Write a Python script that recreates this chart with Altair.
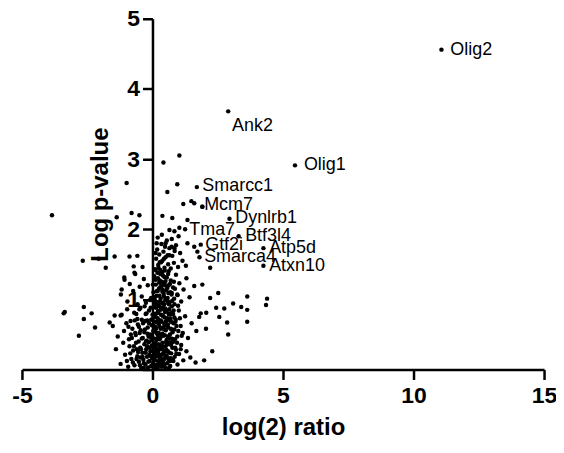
import altair as alt
import pandas as pd

# ---- scatter points (log2 ratio, -log p) ----
# dense cluster near the origin
cl_x = [-1.22, -1.05, -0.93, -0.88, -0.81, -0.74, -0.69, -0.63, -0.58, -0.52, -0.47, -0.43, -0.39, -0.35, -0.31, -0.27,
        -0.24, -0.21, -0.17, -0.14, -0.11, -0.08, -0.05, -0.03, 0.0, 0.02, 0.04, 0.06, 0.08, 0.1, 0.12, 0.14, 0.16, 0.18,
        0.2, 0.22, 0.24, 0.26, 0.28, 0.3, 0.32, 0.34, 0.36, 0.38, 0.4, 0.43, 0.45, 0.48, 0.5, 0.53, 0.56, 0.59, 0.62, 0.65,
        0.68, 0.72, 0.76, 0.8, 0.85, 0.9, 0.96, 1.02, 1.1, 1.18, 1.3, 1.45, 1.65, -1.4, -0.98, -0.6, -0.12, 0.05, 0.15,
        0.27, 0.44, 0.58, 0.7, -0.33, -0.46, 0.11, 0.21, 0.33, 0.52, -0.2, 0.09, 0.37, 0.63, 0.78,
        -1.52, -1.33, -1.18, -1.09, -0.97, -0.9, -0.84, -0.77, -0.7, -0.64, -0.58, -0.52, -0.46, -0.41, -0.36, -0.31,
        -0.26, -0.22, -0.18, -0.13, -0.09, -0.05, -0.01, 0.03, 0.06, 0.09, 0.12, 0.15, 0.18, 0.21, 0.24, 0.27, 0.3, 0.33,
        0.36, 0.39, 0.42, 0.45, 0.48, 0.51, 0.54, 0.57, 0.6, 0.64, 0.67, 0.71, 0.75, 0.79, 0.84, 0.89, 0.95, 1.01, 1.08,
        1.16, 1.25, 1.36, 1.5, 1.68, 1.85, 2.05, 0.0, 0.14, 0.26, 0.38, 0.47, 0.62, 0.73, -0.28, -0.49, -0.15, 0.08, 0.2,
        0.32, 0.55, 0.86, -0.62, -1.0, 0.41, 0.68, 0.17,
        -1.21, -1.08, -0.96, -0.87, -0.74, -0.66, -0.57, -0.49, -0.41, -0.33, -0.25, 0.04, 0.07, 0.1, 0.13, 0.16, 0.19,
        0.22, 0.25, 0.28, 0.31, 0.34, 0.37, 0.4, 0.43, 0.46, 0.49, 0.52, 0.55, 0.58, 0.62, 0.66, 0.7, 0.74, 0.79, 0.84,
        0.9, 0.96, 1.03, 1.1, 1.19, 1.3, 1.42, 1.6, 0.12, 0.2, 0.3, 0.38, 0.5, 0.6, 0.68, 0.05, 0.27, 0.45, 0.82, -0.18,
        -0.05, 0.35, 0.56, 0.15,
        -0.72, -0.58, 0.09, 0.14, 0.18, 0.22, 0.26, 0.3, 0.34, 0.38, 0.42, 0.46, 0.5, 0.55, 0.6, 0.65, 0.7, 0.76, 0.82,
        0.9, 0.98, 1.06, 1.15, 1.28, 0.2, 0.36, 0.48, 0.28, 0.58, 0.12, 0.44, 0.74, 1.0, 0.16, 0.62, 0.85]
cl_y = [0.08, 0.21, 0.04, 0.33, 0.15, 0.27, 0.06, 0.38, 0.19, 0.11, 0.31, 0.02, 0.24, 0.14, 0.36, 0.07,
        0.29, 0.18, 0.03, 0.39, 0.12, 0.26, 0.05, 0.34, 0.16, 0.09, 0.28, 0.01, 0.22, 0.37, 0.13, 0.06, 0.3, 0.19,
        0.02, 0.25, 0.11, 0.35, 0.07, 0.17, 0.29, 0.04, 0.21, 0.38, 0.1, 0.27, 0.15, 0.03, 0.33, 0.2, 0.09, 0.26, 0.14, 0.37,
        0.05, 0.23, 0.31, 0.12, 0.18, 0.28, 0.07, 0.22, 0.35, 0.13, 0.26, 0.17, 0.1, 0.29, 0.12, 0.29, 0.21, 0.18, 0.24,
        0.14, 0.06, 0.36, 0.16, 0.09, 0.17, 0.31, 0.08, 0.12, 0.26, 0.33, 0.03, 0.32, 0.02, 0.39,
        0.62, 0.47, 0.78, 0.55, 0.86, 0.43, 0.69, 0.58, 0.81, 0.49, 0.72, 0.61, 0.88, 0.44, 0.66, 0.53,
        0.79, 0.41, 0.6, 0.84, 0.5, 0.71, 0.46, 0.63, 0.89, 0.54, 0.75, 0.42, 0.67, 0.83, 0.52, 0.7, 0.45, 0.87,
        0.59, 0.77, 0.48, 0.65, 0.82, 0.56, 0.42, 0.73, 0.6, 0.86, 0.5, 0.68, 0.44, 0.79, 0.57, 0.71, 0.47, 0.84, 0.62,
        0.52, 0.76, 0.45, 0.66, 0.55, 0.8, 0.58, 0.78, 0.58, 0.62, 0.51, 0.74, 0.71, 0.57, 0.69, 0.52, 0.47, 0.44, 0.49,
        0.7, 0.63, 0.43, 0.79, 0.66, 0.88, 0.78, 0.8,
        1.07, 1.31, 0.97, 1.22, 1.12, 1.36, 0.93, 1.18, 1.04, 1.29, 0.95, 1.1, 1.33, 0.98, 1.21, 1.05, 1.38,
        0.92, 1.15, 1.27, 1.01, 1.19, 0.94, 1.34, 1.08, 1.24, 0.99, 1.13, 1.31, 1.02, 1.2, 0.96, 1.27, 1.09, 1.17, 0.93,
        1.35, 1.06, 1.23, 0.97, 1.14, 1.3, 1.03, 1.19, 1.28, 1.12, 1.36, 1.14, 1.26, 0.95, 1.1, 0.97, 1.05, 0.93, 1.25, 1.2,
        1.02, 1.22, 1.18, 0.94,
        1.47, 1.62, 1.43, 1.58, 1.71, 1.49, 1.64, 1.42, 1.79, 1.55, 1.68, 1.45, 1.6, 1.84, 1.5, 1.73, 1.44, 1.62, 1.52,
        1.77, 1.46, 1.66, 1.55, 1.48, 1.88, 1.92, 1.75, 1.53, 1.63, 1.66, 1.58, 1.86, 1.9, 1.8, 1.4, 1.69]

# extra points in the darkest core of the cluster
core_x = [0.03, 0.07, 0.11, 0.13, 0.17, 0.19, 0.23, 0.25, 0.29, 0.31, 0.35, 0.37, 0.41, 0.44, 0.47, 0.49, 0.53, 0.57,
          0.59, 0.63, 0.66, 0.69, 0.73, 0.77, 0.81, 0.87, 0.92, 0.98, 0.02, 0.06, 0.1, 0.14, 0.18, 0.21, 0.24, 0.27,
          0.29, 0.33, 0.36, 0.39, 0.42, 0.46, 0.5, 0.54, 0.58, 0.61, 0.64, 0.7, 0.74, 0.78, 0.83, 0.88, 0.94, 1.05, 1.12,
          -0.04, -0.07, -0.1, -0.13, -0.16, -0.19, -0.23, -0.26, -0.29, -0.33, -0.37, -0.41, -0.44, -0.48, -0.53, -0.56,
          -0.61, -0.66, -0.71, -0.79, -0.85, -0.92, -1.12, 0.01, 0.05, 0.09, 0.12, 0.16, 0.2, 0.23, 0.26, 0.3, 0.33, 0.35,
          0.38, 0.41, 0.44, 0.47, 0.51, 0.55, 0.58, 0.62, 0.67, 0.71, 0.76, 0.8, 0.86, 0.91, 0.99, 0.04, 0.08, 0.12, 0.15,
          0.19, 0.22, 0.26, 0.31, 0.34, 0.37, 0.4, 0.45, 0.48, 0.52, 0.56, 0.6, 0.65, 0.68, 0.72, 0.79, 0.84, 0.95, 1.08,
          -0.02, -0.06, -0.09, -0.12, -0.2, -0.25, -0.3, -0.38, -0.45, -0.5, -0.55, -0.68, -0.75, -0.83]
core_y = [0.55, 0.92, 0.35, 0.68, 1.12, 0.44, 0.81, 0.21, 0.97, 0.58, 1.25, 0.33, 0.76, 1.04, 0.49, 0.87, 0.28, 1.16,
          0.64, 0.93, 0.39, 0.72, 1.07, 0.53, 0.84, 0.31, 0.62, 0.91, 1.21, 0.15, 0.61, 0.88, 0.27, 1.3, 0.66, 0.43,
          1.17, 0.78, 0.05, 0.95, 0.6, 1.32, 0.19, 0.83, 0.47, 1.09, 0.24, 0.58, 0.9, 0.14, 1.01, 0.68, 0.38, 0.73, 0.48,
          0.42, 0.88, 0.31, 0.66, 0.11, 0.51, 0.8, 0.24, 0.57, 0.02, 0.45, 0.71, 0.29, 0.06, 0.4, 0.64,
          0.15, 0.52, 0.33, 0.45, 0.23, 0.61, 0.38, 0.72, 0.37, 1.03, 0.2, 0.52, 0.73, 1.45, 0.9, 0.31, 1.53, 0.68,
          1.11, 0.23, 0.86, 1.41, 0.68, 1.0, 0.17, 0.79, 1.22, 0.35, 0.98, 0.66, 1.15, 0.22, 0.55, 0.26, 0.79, 1.42, 0.06,
          0.96, 0.36, 1.24, 0.85, 0.48, 1.39, 0.14, 0.57, 1.2, 0.39, 0.71, 1.36, 0.45, 0.12, 0.81, 0.41, 0.74, 1.07, 0.29,
          0.63, 0.19, 0.99, 0.47, 0.7, 0.4, 0.9, 0.18, 0.56, 0.86, 0.25, 0.7, 0.1, 0.5]

# scattered points outside the dense cluster
out_x = [0.42, 1.03, -0.99, 0.57, 0.95, -3.85, 1.18, 1.49, 1.60, -1.37, -0.80, -0.50,
         0.38, 0.76, 1.34, -1.45, -0.88, -2.67, -2.06, -1.79, -0.38, -0.69, -1.07,
         -1.18, -3.36, -2.63, -2.63, -2.33, -2.82, -1.64, -1.45, -1.22, 0.65, 0.84,
         1.03, 0.50, 0.73, 0.84, 1.34, 1.60, 1.72, 0.65, 2.21, 1.91, 2.52, 2.21,
         2.44, 2.75, 2.56, 1.79, 2.06, 3.09, 3.40, 3.63, 3.63, 3.63, 4.39, 4.35,
         2.86, 2.90, 2.29, 1.98, 1.91, -3.40, -2.20]
out_y = [2.95, 3.05, 2.66, 2.53, 2.64, 2.20, 2.36, 2.40, 2.37, 2.17, 2.23, 2.20,
         2.19, 2.16, 2.13, 1.61, 1.61, 1.55, 1.58, 1.45, 1.46, 1.38, 1.28,
         1.14, 0.82, 0.89, 0.72, 0.80, 0.48, 0.67, 0.77, 0.77, 1.99, 1.97,
         2.02, 1.80, 1.75, 1.73, 1.80, 1.75, 1.68, 1.63, 1.45, 1.21, 1.09, 1.02,
         0.88, 0.87, 0.75, 0.75, 0.81, 0.94, 0.89, 1.04, 0.85, 0.68, 1.01, 0.92,
         0.67, 0.50, 0.26, 0.13, 2.32, 0.80, 0.60]

# labelled genes: point position and label anchor (data units)
genes = ["Olig2", "Olig1", "Ank2", "Smarcc1", "Mcm7", "Dynlrb1", "Tma7",
         "Btf3l4", "Gtf2i", "Atp5d", "Smarca4", "Atxn10"]
gene_x = [11.07, 5.46, 2.90, 1.70, 1.91, 2.95, 1.25, 3.30, 1.85, 4.25, 1.80, 4.25]
gene_y = [4.56, 2.91, 3.68, 2.60, 2.32, 2.15, 2.00, 1.90, 1.78, 1.73, 1.60, 1.48]
label_x = [11.41, 5.80, 3.05, 1.91, 1.98, 3.17, 1.41, 3.55, 2.02, 4.47, 1.98, 4.47]
label_y = [4.56, 2.91, 3.47, 2.61, 2.34, 2.16, 1.99, 1.90, 1.78, 1.73, 1.61, 1.48]

points = pd.DataFrame({"ratio": cl_x + core_x + out_x + gene_x,
                       "logp": cl_y + core_y + out_y + gene_y})
labels = pd.DataFrame({"gene": genes, "lx": label_x, "ly": label_y})

FONT = "Liberation Sans"

xscale = alt.Scale(domain=[-5, 15], nice=False, zero=False)
yscale = alt.Scale(domain=[0, 5], nice=False, zero=False)

W, H = 524, 352

dots = alt.Chart(points).mark_circle(color="black", opacity=1, size=20).encode(
    x=alt.X("ratio:Q", scale=xscale,
            axis=alt.Axis(title="log(2) ratio", values=[-5, 0, 5, 10, 15],
                          labelExpr="'' + datum.value",
                          labelPadding=5, titlePadding=8)),
    y=alt.Y("logp:Q", scale=yscale,
            axis=alt.Axis(title="Log p-value", values=[0, 1, 2, 3, 4, 5],
                          offset=-W * 5 / 20,
                          labelExpr="datum.value == 0 ? '' : '' + datum.value",
                          labelPadding=3, titlePadding=14)),
)

text = alt.Chart(labels).mark_text(
    align="left", baseline="middle", font=FONT, fontSize=18, color="black"
).encode(
    x=alt.X("lx:Q", scale=xscale),
    y=alt.Y("ly:Q", scale=yscale),
    text="gene:N",
)

chart = (dots + text).properties(
    width=W, height=H,
    autosize=alt.AutoSizeParams(type="none"),
    padding={"left": 14, "top": 10, "right": 12, "bottom": 80},
).configure_view(stroke=None).configure_axis(
    grid=False,
    domainColor="black", domainWidth=2.5,
    tickColor="black", tickWidth=2.5, tickSize=10,
    labelFont=FONT, labelFontSize=23, labelFontWeight="bold", labelColor="black",
    titleFont=FONT, titleFontSize=24, titleFontWeight="bold", titleColor="black",
    labelFlush=False, labelOverlap=False,
)

chart.save("out.html", embed_options={"renderer": "svg", "actions": False})
